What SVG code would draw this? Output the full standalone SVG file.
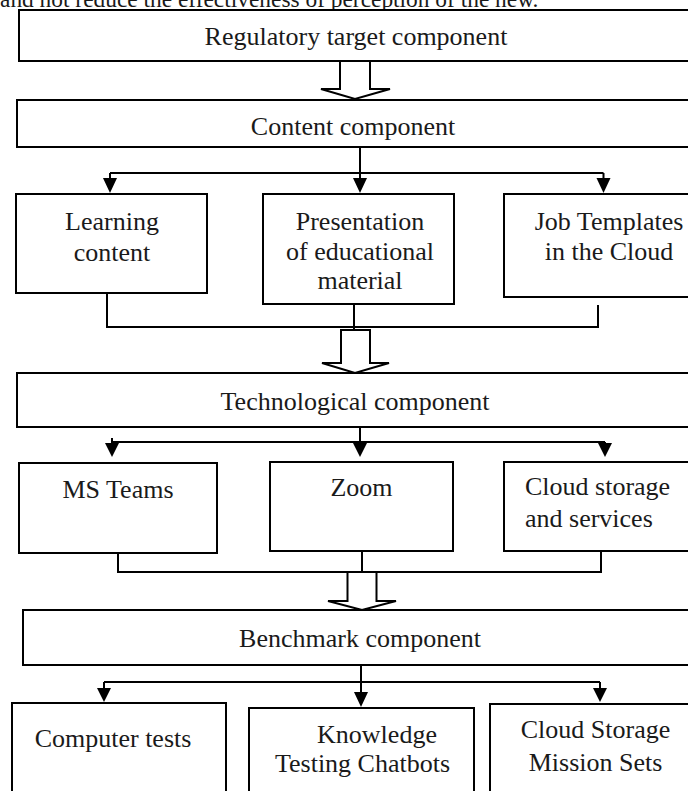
<svg xmlns="http://www.w3.org/2000/svg" width="688" height="791" viewBox="0 0 688 791">
  <style>
    .box { fill: #ffffff; stroke: #000000; stroke-width: 2; }
    .hollow { fill: #ffffff; stroke: #000000; stroke-width: 2; stroke-linejoin: miter; }
    .wire { fill: none; stroke: #000000; stroke-width: 2; }
    .head { fill: #000000; stroke: none; }
    text { font-family: "Liberation Serif", "Times New Roman", serif; font-size: 26px; fill: #1a1a1a; }
    .c { text-anchor: middle; }
    .para { font-size: 23.4px; }
  </style>

  <rect x="0" y="0" width="688" height="791" fill="#ffffff"/>

  <!-- trailing line of the preceding paragraph -->
  <text class="para" x="0" y="7">and not reduce the effectiveness of perception of the new.</text>

  <!-- connectors -->
  <g id="connectors">
    <!-- regulatory -> content -->
    <polygon class="hollow" points="340,61 340,89 321,89 355,99 390,89 370,89 370,61"/>

    <!-- content -> three content items -->
    <path class="wire" d="M360,147 V179 M110,173 H603.5 M110,173 V179 M603.5,173 V179"/>
    <polygon class="head" points="103,178 117,178 110,193"/>
    <polygon class="head" points="353,178 367,178 360,193"/>
    <polygon class="head" points="596.5,178 610.5,178 603.5,193"/>

    <!-- content items joined -->
    <path class="wire" d="M107,293 V327 H598 V305 M354,304 V332"/>

    <!-- content items -> technological -->
    <polygon class="hollow" points="341,330 341,363 322,363 355,373 389,363 370,363 370,330"/>

    <!-- technological -> three tools -->
    <path class="wire" d="M360,427 V443 M112,442 H605 M112,438 V443 M605,442 V443"/>
    <polygon class="head" points="105,443 119,443 112,457"/>
    <polygon class="head" points="353,443 367,443 360,457"/>
    <polygon class="head" points="598,443 612,443 605,457"/>

    <!-- tools joined -->
    <path class="wire" d="M118,553 V572 H601 V551 M362,551 V572"/>

    <!-- tools -> benchmark -->
    <polygon class="hollow" points="347.5,572 347.5,601 328,601 362,610 396,601 376.5,601 376.5,572"/>

    <!-- benchmark -> three assessment items -->
    <path class="wire" d="M361,665 V693 M104,682 H600 M104,682 V688 M600,682 V688"/>
    <polygon class="head" points="97,688 111,688 104,702"/>
    <polygon class="head" points="354,692 368,692 361,707"/>
    <polygon class="head" points="593,688 607,688 600,702"/>
  </g>

  <!-- level 1 -->
  <g id="regulatory">
    <rect class="box" x="19" y="10" width="700" height="51"/>
    <text class="c" x="356" y="45">Regulatory target component</text>
  </g>

  <!-- level 2 -->
  <g id="content">
    <rect class="box" x="17" y="100" width="700" height="47"/>
    <text class="c" x="353" y="135">Content component</text>
  </g>

  <g id="learning-content">
    <rect class="box" x="16" y="194" width="191" height="99"/>
    <text class="c" x="112" y="230">Learning</text>
    <text class="c" x="112" y="261">content</text>
  </g>

  <g id="presentation">
    <rect class="box" x="263" y="194" width="191" height="110"/>
    <text class="c" x="360" y="230">Presentation</text>
    <text class="c" x="360" y="260">of educational</text>
    <text class="c" x="360" y="289">material</text>
  </g>

  <g id="job-templates">
    <rect class="box" x="504" y="194" width="210" height="103"/>
    <text class="c" x="609" y="230">Job Templates</text>
    <text class="c" x="609" y="260">in the Cloud</text>
  </g>

  <!-- level 3 -->
  <g id="technological">
    <rect class="box" x="17" y="373" width="700" height="54"/>
    <text class="c" x="355" y="410">Technological component</text>
  </g>

  <g id="ms-teams">
    <rect class="box" x="19" y="463" width="198" height="90"/>
    <text class="c" x="118" y="498">MS Teams</text>
  </g>

  <g id="zoom">
    <rect class="box" x="270" y="462" width="183" height="89"/>
    <text class="c" x="361.5" y="496">Zoom</text>
  </g>

  <g id="cloud-storage">
    <rect class="box" x="504" y="462" width="200" height="89"/>
    <text x="525" y="495">Cloud storage</text>
    <text x="525" y="527">and services</text>
  </g>

  <!-- level 4 -->
  <g id="benchmark">
    <rect class="box" x="23" y="610" width="700" height="55"/>
    <text class="c" x="360" y="647">Benchmark component</text>
  </g>

  <g id="computer-tests">
    <rect class="box" x="12" y="703" width="214" height="100"/>
    <text class="c" x="113" y="747">Computer tests</text>
  </g>

  <g id="chatbots">
    <rect class="box" x="249" y="708" width="225" height="100"/>
    <text class="c" x="377" y="743">Knowledge</text>
    <text class="c" x="362.5" y="772">Testing Chatbots</text>
  </g>

  <g id="mission-sets">
    <rect class="box" x="490" y="704" width="220" height="100"/>
    <text class="c" x="595.5" y="738">Cloud Storage</text>
    <text class="c" x="595.5" y="771">Mission Sets</text>
  </g>
</svg>
